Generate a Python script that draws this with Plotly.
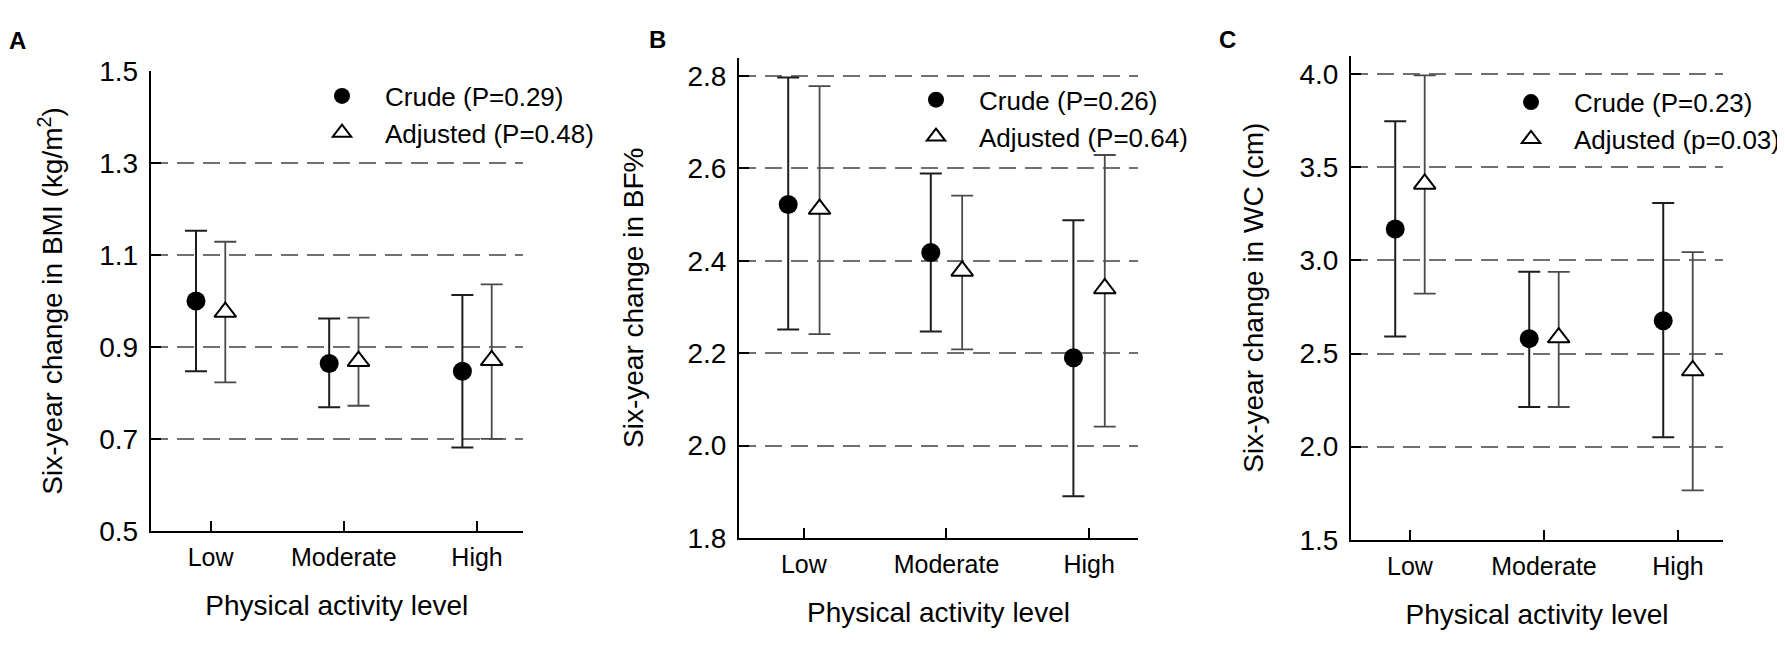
import plotly.graph_objects as go

# ---------------- data ----------------
categories = ["Low", "Moderate", "High"]

bmi_crude = [1.000, 0.864, 0.847]
bmi_crude_lo = [0.847, 0.769, 0.681]
bmi_crude_hi = [1.153, 0.962, 1.013]
bmi_adj = [0.976, 0.869, 0.871]
bmi_adj_lo = [0.823, 0.772, 0.700]
bmi_adj_hi = [1.129, 0.964, 1.036]

bf_crude = [2.522, 2.418, 2.190]
bf_crude_lo = [2.251, 2.247, 1.890]
bf_crude_hi = [2.797, 2.589, 2.488]
bf_adj = [2.512, 2.378, 2.340]
bf_adj_lo = [2.241, 2.208, 2.041]
bf_adj_hi = [2.778, 2.541, 2.629]

wc_crude = [3.169, 2.580, 2.676]
wc_crude_lo = [2.592, 2.213, 2.051]
wc_crude_hi = [3.747, 2.939, 3.308]
wc_adj = [3.411, 2.586, 2.409]
wc_adj_lo = [2.822, 2.213, 1.765]
wc_adj_hi = [3.994, 2.939, 3.045]

crude_labels = ["Crude (P=0.29)", "Crude (P=0.26)", "Crude (P=0.23)"]
adj_labels = ["Adjusted (P=0.48)", "Adjusted (P=0.64)", "Adjusted (p=0.03)"]
panel_letters = ["A", "B", "C"]
y_titles = ["Six-year change in BMI (kg/m<sup>2</sup>)",
            "Six-year change in BF%",
            "Six-year change in WC (cm)"]
y_ticks = [[0.5, 0.7, 0.9, 1.1, 1.3, 1.5],
           [1.8, 2.0, 2.2, 2.4, 2.6, 2.8],
           [1.5, 2.0, 2.5, 3.0, 3.5, 4.0]]
y_ranges = [[0.5, 1.5], [1.8, 2.84], [1.5, 4.1]]
x_title = "Physical activity level"

# ---------------- figure ----------------
W, H = 1785, 647
FONT = "Liberation Sans, Arial, sans-serif"

panels = [
    (bmi_crude, bmi_crude_lo, bmi_crude_hi, bmi_adj, bmi_adj_lo, bmi_adj_hi),
    (bf_crude, bf_crude_lo, bf_crude_hi, bf_adj, bf_adj_lo, bf_adj_hi),
    (wc_crude, wc_crude_lo, wc_crude_hi, wc_adj, wc_adj_lo, wc_adj_hi),
]

# plot areas in pixels: (left, right, top, bottom)
areas = [(142.7, 515, 50.7, 533.3), (731, 1130, 36.3, 540.8), (1343, 1715, 34.2, 542.8)]
x_ranges = [[-0.45, 2.345], [-0.455, 2.343], [-0.44, 2.336]]
legend_pos = [(291, 52), (885, 56), (1480, 58.5)]
letter_pos = [(9, 18), (649, 17), (1219, 17.8)]
ytitle_standoff = [28, 36, 28]

fig = go.Figure()
layout = dict(
    width=W, height=H, margin=dict(l=0, r=0, t=0, b=0),
    paper_bgcolor="white", plot_bgcolor="white",
    font=dict(family=FONT, size=24, color="black"),
    scattermode="group", scattergap=0.56,
    annotations=[],
)

for i, (c, clo, chi, a, alo, ahi) in enumerate(panels):
    sfx = "" if i == 0 else str(i + 1)
    leg = "legend" + sfx
    xa, ya = "x" + sfx, "y" + sfx
    fig.add_trace(go.Scatter(
        x=categories, y=c, xaxis=xa, yaxis=ya, legend=leg,
        name=crude_labels[i], mode="markers",
        marker=dict(symbol="circle", size=19, color="black"),
        error_y=dict(type="data", symmetric=False,
                     array=[h - v for h, v in zip(chi, c)],
                     arrayminus=[v - l for v, l in zip(c, clo)],
                     color="#1e1e1e", thickness=2, width=11),
    ))
    fig.add_trace(go.Scatter(
        x=categories, y=a, xaxis=xa, yaxis=ya, legend=leg,
        name=adj_labels[i], mode="markers",
        marker=dict(symbol="triangle-up", size=19, color="white",
                    line=dict(color="black", width=2)),
        error_y=dict(type="data", symmetric=False,
                     array=[h - v for h, v in zip(ahi, a)],
                     arrayminus=[v - l for v, l in zip(a, alo)],
                     color="#4a4a4a", thickness=1.8, width=11),
    ))
    l, r, t, b = areas[i]
    layout["xaxis" + sfx] = dict(
        domain=[l / W, r / W], anchor=ya,
        type="category", range=x_ranges[i],
        showline=True, linecolor="black", linewidth=2,
        ticks="inside", ticklen=10, tickwidth=2, tickcolor="black",
        showgrid=False, zeroline=False,
        tickfont=dict(size=25), ticklabelstandoff=3,
        title=dict(text=x_title, font=dict(size=28), standoff=26),
    )
    layout["yaxis" + sfx] = dict(
        domain=[1 - b / H, 1 - t / H], anchor=xa,
        range=y_ranges[i], tickvals=y_ticks[i], tickformat=".1f",
        showline=True, linecolor="black", linewidth=2,
        ticks="inside", ticklen=10, tickwidth=2, tickcolor="black",
        showgrid=True, gridcolor="#707070", gridwidth=2, griddash="17px,9px",
        zeroline=False, tickfont=dict(size=28), ticklabelstandoff=5,
        title=dict(text=y_titles[i], font=dict(size=28), standoff=ytitle_standoff[i]),
    )
    lx, ly = legend_pos[i]
    layout[leg] = dict(
        x=lx / W, y=1 - ly / H, xanchor="left", yanchor="top",
        bgcolor="rgba(0,0,0,0)", borderwidth=0,
        font=dict(size=26), itemwidth=76, tracegroupgap=0,
    )
    px_, py_ = letter_pos[i]
    layout["annotations"].append(dict(
        text="<b>%s</b>" % panel_letters[i], x=px_ / W, y=1 - py_ / H,
        xref="paper", yref="paper", xanchor="center", yanchor="middle",
        showarrow=False, font=dict(size=24, family=FONT),
    ))

fig.update_layout(**layout)
fig.write_html("out.html")
